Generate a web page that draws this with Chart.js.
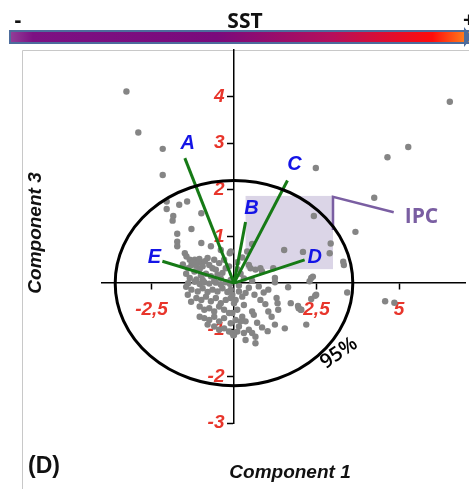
<!DOCTYPE html>
<html>
<head>
<meta charset="utf-8">
<script src="https://cdn.jsdelivr.net/npm/chart.js@4.4.0/dist/chart.umd.min.js"></script>
<style>
    html, body { margin: 0; padding: 0; background: #fff; }
    #kutu { width: 469px; height: 489px; }
</style>
</head>
<body>
<div id="kutu"><canvas id="grafik-bilesen" width="469" height="489"></canvas></div>
<script>
// PCA scores, component 1 (x) vs component 3 (y)
const skorNoktalari = [
    [-3.26, 4.11], [-2.90, 3.23], [-2.16, 2.88], [-2.16, 2.32], [2.48, 2.47], [4.65, 2.70],
    [5.28, 2.92], [6.54, 3.89], [4.25, 1.83], [3.68, 1.10], [3.43, -0.20], [4.58, -0.39], [4.86, -0.42],
    [-2.04, 1.75], [-1.66, 1.68], [-1.42, 1.75], [-2.04, 1.59], [-1.84, 1.44], [-1.86, 1.34],
    [-0.99, 1.50], [-1.29, 1.16], [-1.72, 1.06], [-1.72, 0.89], [-1.72, 0.79], [-0.99, 0.86],
    [-0.70, 0.79], [-0.40, 0.71], [-0.13, 0.64], [-1.49, 0.64], [-1.44, 0.57],
    [-1.34, 0.50], [-1.19, 0.50], [-1.10, 0.46], [-0.99, 0.43], [-1.29, 0.39], [-1.14, 0.37],
    [-0.95, 0.36], [-1.39, 0.32], [-1.04, 0.30], [-0.80, 0.54], [-0.75, 0.39], [-0.60, 0.50],
    [-0.65, 0.32], [-0.45, 0.43], [-0.55, 0.29], [-0.30, 0.50], [-0.25, 0.32], [-0.15, 0.36],
    [-1.34, 0.11], [-1.14, 0.08], [-0.95, 0.07], [-0.10, 0.07], [-1.24, 0.45], [-1.05, 0.52],
    [-0.88, 0.47], [-1.20, 0.25], [-0.85, 0.20], [-0.70, 0.15], [-0.50, 0.18], [-0.35, 0.22],
    [-1.45, 0.20], [-1.55, 0.40], [-0.60, 0.05], [-0.40, 0.10], [-1.00, 0.17],
    [2.42, 1.44], [2.93, 0.85], [2.90, 0.64], [3.31, 0.46], [3.33, 0.39], [2.09, 0.67],
    [2.39, 0.14], [2.34, 0.11], [1.52, 0.71], [0.55, 0.84], [0.40, 0.68], [-0.10, 0.68],
    [0.45, 0.39], [0.50, 0.32], [0.65, 0.29], [0.80, 0.32], [0.85, 0.25], [1.19, 0.32],
    [1.24, 0.11], [0.20, 0.20], [0.30, 0.10], [1.24, 0.02], [2.29, 0.04], [0.10, 0.45], [0.25, 0.55],
    [2.46, -0.27], [2.34, -0.34], [2.04, -0.57], [1.96, -0.54], [2.19, -0.89],
    [0.15, -0.18], [0.25, -0.29], [0.35, -0.21], [0.05, -0.36], [0.30, -0.47], [0.55, -0.61],
    [0.60, -0.68], [0.25, -0.72], [0.35, -0.82], [0.15, -0.93], [0.45, -1.00], [0.55, -1.07],
    [0.65, -1.15], [0.75, -0.07], [0.80, -0.36], [1.04, -0.14], [1.29, -0.32], [1.32, -0.43],
    [1.04, -0.61], [1.34, -0.57], [1.14, -0.72], [1.24, -0.89], [1.02, -1.03], [1.64, -0.09],
    [1.72, -0.43], [1.94, -0.49], [2.02, -0.57], [1.54, -0.97], [2.49, -0.25], [0.65, -1.29], [0.35, -1.22],
    [-0.10, -0.14], [-0.05, -0.25], [0.00, -0.43], [0.10, -0.57], [-0.05, -0.64], [0.05, -0.79],
    [-0.10, -0.86], [0.20, -0.82], [0.10, -1.04], [0.30, -1.07], [0.00, -1.11], [-0.05, -1.07], [-0.02, -1.12],
    [-1.39, 0.00], [-1.19, 0.03], [-1.04, -0.02], [-0.90, 0.02], [-0.75, -0.01], [-0.55, 0.01],
    [-0.40, -0.03], [-0.25, 0.02], [-0.12, -0.02],
    [-1.29, -0.14], [-1.10, -0.18], [-0.95, -0.11], [-0.80, -0.19], [-0.65, -0.14], [-0.50, -0.18],
    [-0.35, -0.11], [-0.20, -0.19],
    [-1.14, -0.32], [-0.99, -0.36], [-0.85, -0.29], [-0.70, -0.39], [-0.55, -0.32], [-0.40, -0.43],
    [-0.25, -0.36], [-0.10, -0.32],
    [-1.04, -0.50], [-0.90, -0.57], [-0.75, -0.54], [-0.60, -0.61], [-0.45, -0.50], [-0.30, -0.57], [-0.15, -0.64],
    [-1.04, -0.72], [-0.90, -0.75], [-0.75, -0.79], [-0.60, -0.72], [-0.45, -0.82], [-0.30, -0.75],
    [-0.80, -0.89], [-0.60, -0.93], [-0.45, -1.00], [-0.30, -0.97], [-0.15, -1.04],
    [-1.45, -0.08], [-1.40, -0.25], [-1.30, -0.40],
    [0.10, 0.30], [0.15, -0.05], [0.45, -0.10], [0.55, 0.05], [0.62, -0.25], [0.90, -0.20],
    [0.95, -0.45], [0.70, -0.85], [0.85, -0.95]
];

// loading vectors
const vektorAdlari = ['A', 'B', 'C', 'D', 'E'];
const vektorX = [-1.49, 0.35, 1.62, 2.14, -2.17];
const vektorY = [2.68, 1.31, 2.20, 0.50, 0.47];

const xTikDegerleri = [-2.5, 2.5, 5];
const xTikEtiketleri = ['-2,5', '2,5', '5'];
const yTikDegerleri = [-3, -2, -1, 1, 2, 3, 4];
const yTikEtiketleri = ['-3', '-2', '-1', '1', '2', '3', '4'];

// 95% ellipse and IPC box
const elipsYaricap = [3.6, 2.2];
const ipcKutuX = [0.35, 3.0];
const ipcKutuY = [0.30, 1.87];
const ipcCizgiX = [3.0, 3.0, 4.84];
const ipcCizgiY = [1.14, 1.85, 1.52];

const kirmizi = '#e8352b';
const tikFontu = { family: "'Liberation Sans', Arial, sans-serif", size: 19, style: 'italic', weight: 'bold' };

// pixel offsets of the letters from the vector tips
const etiketKaydir = [[3, -15], [6, -14], [7, -16], [10, -2], [-8, -4]];

const ekCizimler = {
    id: 'ekCizimler',
    beforeDraw(chart) {
        const ctx = chart.ctx;
        ctx.save();
        ctx.fillStyle = '#fff';
        ctx.fillRect(0, 0, chart.width, chart.height);

        // panel frame
        ctx.strokeStyle = '#c8c8c8';
        ctx.lineWidth = 1;
        ctx.beginPath();
        ctx.moveTo(22.5, 489);
        ctx.lineTo(22.5, 50.5);
        ctx.lineTo(469, 50.5);
        ctx.stroke();

        // SST colour arrow
        let g = ctx.createLinearGradient(10, 0, 469, 0);
        g.addColorStop(0, '#923f98');
        g.addColorStop(0.05, '#7d1183');
        g.addColorStop(0.45, '#7a0a7c');
        g.addColorStop(0.7, '#b50f5c');
        g.addColorStop(0.92, '#ff0c0c');
        g.addColorStop(1, '#ff8a1e');
        ctx.fillStyle = g;
        ctx.fillRect(10, 31, 459, 12);
        ctx.strokeStyle = '#4d6c9c';
        ctx.lineWidth = 2;
        ctx.strokeRect(10, 31, 462, 12);
        ctx.fillStyle = '#4d6c9c';
        ctx.beginPath();
        ctx.moveTo(464, 27);
        ctx.lineTo(472, 37);
        ctx.lineTo(464, 47);
        ctx.closePath();
        ctx.fill();

        ctx.fillStyle = '#111';
        ctx.font = "bold 21px 'Open Sans', sans-serif";
        ctx.textAlign = 'center';
        ctx.textBaseline = 'alphabetic';
        ctx.fillText('SST', 245, 28);
        ctx.fillText('-', 18, 27);
        ctx.fillText('+', 469, 27);

        // axis titles and panel letter
        ctx.font = "italic bold 19px 'Liberation Sans', Arial, sans-serif";
        ctx.fillText('Component 1', 290, 478);
        ctx.save();
        ctx.translate(41, 233);
        ctx.rotate(-Math.PI / 2);
        ctx.fillText('Component 3', 0, 0);
        ctx.restore();
        ctx.textAlign = 'left';
        ctx.font = "bold 23px 'Liberation Sans', Arial, sans-serif";
        ctx.fillText('(D)', 28, 473);
        ctx.restore();
    },
    beforeDatasetsDraw(chart) {
        const ctx = chart.ctx, x = chart.scales.x, y = chart.scales.y;
        ctx.save();
        ctx.fillStyle = 'rgba(190, 178, 212, 0.55)';
        const x1 = x.getPixelForValue(ipcKutuX[0]), x2 = x.getPixelForValue(ipcKutuX[1]);
        const y1 = y.getPixelForValue(ipcKutuY[1]), y2 = y.getPixelForValue(ipcKutuY[0]);
        ctx.fillRect(x1, y1, x2 - x1, y2 - y1);
        ctx.restore();
    },
    afterDatasetsDraw(chart) {
        const ctx = chart.ctx, x = chart.scales.x, y = chart.scales.y;
        ctx.save();
        const cx = x.getPixelForValue(0), cy = y.getPixelForValue(0);
        const rx = x.getPixelForValue(elipsYaricap[0]) - cx;
        const ry = cy - y.getPixelForValue(elipsYaricap[1]);
        ctx.strokeStyle = '#000';
        ctx.lineWidth = 3;
        ctx.beginPath();
        ctx.ellipse(cx, cy, rx, ry, 0, 0, Math.PI * 2);
        ctx.stroke();

        ctx.fillStyle = '#1414e6';
        ctx.font = "italic bold 20px 'Liberation Sans', Arial, sans-serif";
        ctx.textAlign = 'center';
        ctx.textBaseline = 'middle';
        vektorAdlari.forEach((ad, i) => {
            ctx.fillText(ad, x.getPixelForValue(vektorX[i]) + etiketKaydir[i][0],
                y.getPixelForValue(vektorY[i]) + etiketKaydir[i][1]);
        });

        ctx.fillStyle = '#7a5ea2';
        ctx.font = "bold 21px 'Open Sans', sans-serif";
        ctx.textAlign = 'left';
        ctx.fillText('IPC', x.getPixelForValue(ipcCizgiX[2]) + 11, y.getPixelForValue(ipcCizgiY[2]) + 5);

        ctx.fillStyle = '#000';
        ctx.font = "600 20px 'Open Sans', sans-serif";
        ctx.translate(cx + 105, cy + 70);
        ctx.rotate(-0.6);
        ctx.textAlign = 'center';
        ctx.fillText('95%', 0, 0);
        ctx.restore();
    }
};

function vektorVeriSetleri() {
    return vektorAdlari.map((ad, i) => ({
        label: ad,
        data: [{ x: 0, y: 0 }, { x: vektorX[i], y: vektorY[i] }],
        showLine: true,
        borderColor: '#167a16',
        borderWidth: 3,
        pointRadius: 0,
        order: 0
    }));
}

const data = {
    datasets: [
        ...vektorVeriSetleri(),
        {
            label: 'IPC',
            data: ipcCizgiX.map((v, i) => ({ x: v, y: ipcCizgiY[i] })),
            showLine: true,
            borderColor: '#7a5ea2',
            borderWidth: 2.5,
            pointRadius: 0,
            order: 0
        },
        {
            label: 'Skorlar',
            data: skorNoktalari.map(p => ({ x: p[0], y: p[1] })),
            backgroundColor: '#858585',
            borderWidth: 0,
            pointRadius: 3.2,
            order: 1
        }
    ]
};

const config = {
    type: 'scatter',
    data: data,
    options: {
        responsive: false,
        animation: false,
        layout: { padding: { left: 102, right: 0, top: 50, bottom: 66 } },
        plugins: { legend: { display: false }, tooltip: { enabled: false } },
        scales: {
            x: {
                type: 'linear', min: -4, max: 7,
                position: { y: 0 },
                afterBuildTicks: s => { s.ticks = xTikDegerleri.map(v => ({ value: v })); },
                grid: { drawOnChartArea: false, drawTicks: true, tickLength: 6, tickColor: '#000', tickWidth: 1.5 },
                border: { color: '#000', width: 1.5 },
                ticks: { color: kirmizi, font: tikFontu, padding: 9, maxRotation: 0, autoSkip: false,
                    callback: (v, i) => xTikEtiketleri[i] }
            },
            y: {
                type: 'linear', min: -3, max: 5,
                position: { x: 0 },
                afterBuildTicks: s => { s.ticks = yTikDegerleri.map(v => ({ value: v })); },
                grid: { drawOnChartArea: false, drawTicks: true, tickLength: 6, tickColor: '#000', tickWidth: 1.5 },
                border: { color: '#000', width: 1.5 },
                // labels of an axis placed at x = 0 end on the axis line, so an en space keeps them off the tick
                ticks: { color: kirmizi, font: tikFontu, autoSkip: false,
                    callback: (v, i) => yTikEtiketleri[i] + '\u2002' }
            }
        }
    },
    plugins: [ekCizimler]
};

new Chart(document.getElementById('grafik-bilesen'), config);
</script>
</body>
</html>
